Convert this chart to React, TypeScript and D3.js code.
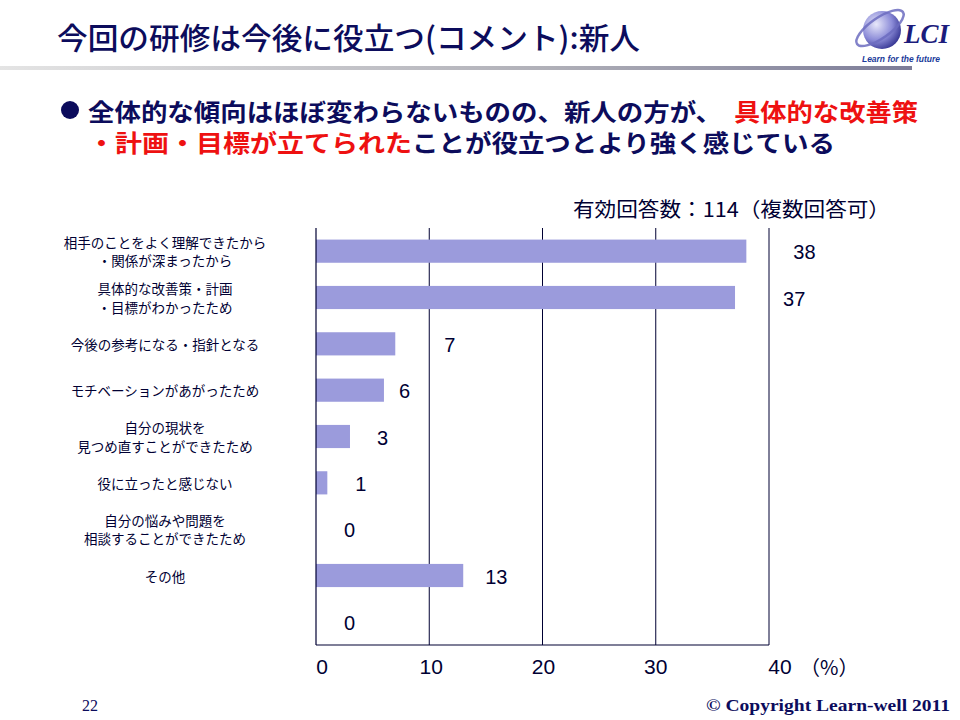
import React from "react";
import * as d3 from "d3";

const categories: string[][] = [
  ["相手のことをよく理解できたから", "・関係が深まったから"],
  ["具体的な改善策・計画", "・目標がわかったため"],
  ["今後の参考になる・指針となる"],
  ["モチベーションがあがったため"],
  ["自分の現状を", "見つめ直すことができたため"],
  ["役に立ったと感じない"],
  ["自分の悩みや問題を", "相談することができたため"],
  ["その他"],
  [""],
];
const values: number[] = [38, 37, 7, 6, 3, 1, 0, 13, 0];
const ticks: number[] = [0, 10, 20, 30, 40];

// layout-only offsets of value labels (as placed in the original slide)
const labelDx = [47, 48, 49, 15, 27, 28, 28, 22, 28];
const tickDx = [6, 2, 1, 0, 11];

const NAVY = "#0c0c5c";
const DARK = "#000033";
const RED = "#ee1111";
const BAR = "#9b9bdc";
const JP = "'Noto Sans CJK JP', 'Noto Sans', sans-serif";
const SANS = "'Liberation Sans', Arial, sans-serif";
const SERIF = "'Liberation Serif', 'Times New Roman', serif";

export default function App() {
  const x = d3.scaleLinear().domain([0, 40]).range([316, 769]);
  const plotTop = 228;
  const plotBottom = 645;
  const y = d3
    .scaleBand<number>()
    .domain(d3.range(values.length))
    .range([plotTop, plotBottom])
    .paddingInner(0.5)
    .paddingOuter(0.25);
  const bw = y.bandwidth();
  const cy = (i: number) => (y(i) as number) + bw / 2;

  return (
    <svg
      width={960}
      height={720}
      style={{ position: "absolute", left: 0, top: 0, background: "#fff" }}
    >
      <defs>
        <linearGradient id="rule" x1="0" x2="1" y1="0" y2="0">
          <stop offset="0" stopColor="#e4e4e4" />
          <stop offset="0.6" stopColor="#b0b0b8" />
          <stop offset="1" stopColor="#7c7c98" />
        </linearGradient>
        <radialGradient id="globe" cx="0.35" cy="0.35" r="0.75">
          <stop offset="0" stopColor="#e8e8fa" />
          <stop offset="0.55" stopColor="#8c8cd8" />
          <stop offset="1" stopColor="#2a2a8a" />
        </radialGradient>
      </defs>

      {/* Title */}
      <text
        x={57}
        y={36}
        dominantBaseline="central"
        fontFamily={JP}
        fontWeight={500}
        fontSize={30}
        fill={NAVY}
        textLength={583}
        lengthAdjust="spacingAndGlyphs"
      >
        今回の研修は今後に役立つ(コメント):新人
      </text>
      <rect x={0} y={66} width={912} height={4} fill="url(#rule)" />

      {/* Logo */}
      <g>
        <circle cx={882} cy={30} r={19} fill="url(#globe)" />
        <ellipse
          cx={880}
          cy={28}
          rx={28}
          ry={10}
          fill="none"
          stroke="#6c6cc0"
          strokeWidth={2.5}
          transform="rotate(-35 880 28)"
          opacity={0.85}
        />
        <text
          x={904}
          y={43}
          fontFamily={SERIF}
          fontStyle="italic"
          fontWeight={700}
          fontSize={27}
          fill="#1c1c7c"
        >
          LCI
        </text>
        <text
          x={862}
          y={62}
          fontFamily={SANS}
          fontStyle="italic"
          fontWeight={700}
          fontSize={9.5}
          fill="#1a3a9a"
          textLength={78}
          lengthAdjust="spacingAndGlyphs"
        >
          Learn for the future
        </text>
      </g>

      {/* Bullet text */}
      <circle cx={70} cy={110} r={9} fill={NAVY} />
      <g fontFamily={JP} fontWeight={700} fontSize={24} dominantBaseline="central">
        <text x={88} y={110} fill={NAVY} textLength={634} lengthAdjust="spacingAndGlyphs">
          全体的な傾向はほぼ変わらないものの、新人の方が、
        </text>
        <text x={734} y={110} fill={RED} textLength={184} lengthAdjust="spacingAndGlyphs">
          具体的な改善策
        </text>
        <text x={88} y={141} fill={RED} textLength={324} lengthAdjust="spacingAndGlyphs">
          ・計画・目標が立てられた
        </text>
        <text x={412} y={141} fill={NAVY} textLength={423} lengthAdjust="spacingAndGlyphs">
          ことが役立つとより強く感じている
        </text>
      </g>

      {/* Note */}
      <text
        x={573}
        y={208}
        dominantBaseline="central"
        fontFamily={JP}
        fontSize={20}
        fill={DARK}
        textLength={317}
        lengthAdjust="spacingAndGlyphs"
      >
        有効回答数：114（複数回答可）
      </text>

      {/* Grid lines */}
      {ticks.slice(1).map((t) => (
        <line
          key={"g" + t}
          x1={x(t)}
          x2={x(t)}
          y1={plotTop}
          y2={plotBottom}
          stroke={DARK}
          strokeWidth={1}
        />
      ))}
      {/* Bars */}
      {values.map((v, i) => (
        <rect
          key={"b" + i}
          x={x(0)}
          y={y(i) as number}
          width={x(v) - x(0)}
          height={bw}
          fill={BAR}
        />
      ))}
      {/* Axes frame */}
      <line x1={x(0)} x2={x(0)} y1={plotTop} y2={plotBottom} stroke={DARK} strokeWidth={1.2} />
      <line x1={x(0)} x2={x(40)} y1={plotBottom} y2={plotBottom} stroke={DARK} strokeWidth={1.2} />

      {/* Value labels */}
      {values.map((v, i) => (
        <text
          key={"v" + i}
          x={x(v) + labelDx[i]}
          y={cy(i) + 1}
          dominantBaseline="central"
          fontFamily={SANS}
          fontSize={20}
          fill={DARK}
        >
          {v}
        </text>
      ))}

      {/* Category labels */}
      {categories.map((lines, i) => (
        <g key={"c" + i}>
          {lines.map((l, j) => (
            <text
              key={j}
              x={165}
              y={cy(i) + (j - (lines.length - 1) / 2) * 18.5}
              textAnchor="middle"
              dominantBaseline="central"
              fontFamily={JP}
              fontSize={13.5}
              fill={DARK}
            >
              {l}
            </text>
          ))}
        </g>
      ))}

      {/* Tick labels */}
      {ticks.map((t, i) => (
        <text
          key={"t" + t}
          x={x(t) + tickDx[i]}
          y={666}
          textAnchor="middle"
          dominantBaseline="central"
          fontFamily={SANS}
          fontSize={21}
          fill={DARK}
        >
          {t}
        </text>
      ))}
      <text
        x={800}
        y={666}
        dominantBaseline="central"
        fontFamily={JP}
        fontSize={20}
        fill={DARK}
      >
        （%）
      </text>

      {/* Footer */}
      <text x={82} y={711} fontFamily={SERIF} fontSize={16} fill={NAVY}>
        22
      </text>
      <text
        x={706}
        y={711}
        fontFamily={SERIF}
        fontWeight={700}
        fontSize={17}
        fill={NAVY}
        textLength={244}
        lengthAdjust="spacingAndGlyphs"
      >
        © Copyright Learn-well 2011
      </text>
    </svg>
  );
}
